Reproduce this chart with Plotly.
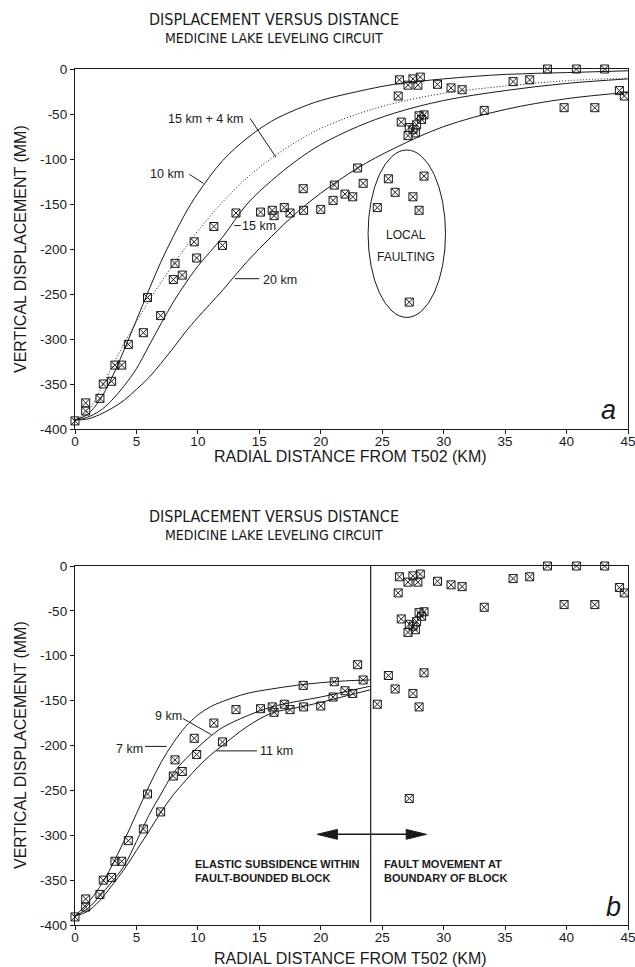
import plotly.graph_objects as go

# ---------------- data ----------------
dist_km = [0.0, 0.87, 0.87, 2.03, 2.3, 2.98, 3.25, 3.8, 4.34, 5.56,
           5.9, 6.97, 8.0, 8.14, 8.73, 9.7, 9.9, 11.3, 12.0, 13.1,
           15.1, 16.05, 16.2, 17.03, 17.5, 18.6, 18.57, 20.0, 21.0, 21.1,
           21.97, 22.6, 23.0, 23.45, 24.6, 25.5, 26.05, 27.5, 28.4, 28.0,
           27.2, 26.3, 26.4, 27.1, 27.5, 27.9, 28.1, 29.5, 30.6, 31.5,
           33.3, 35.65, 37.0, 38.45, 40.8, 43.1, 39.8, 42.3, 44.3, 44.7,
           26.55, 27.2, 28.0, 28.4, 28.2, 27.1, 27.7, 27.8, 27.5]
disp_mm = [-391, -371, -380, -366, -350, -347, -329, -329, -306, -293,
           -254, -274, -234, -216, -229, -192, -210, -175, -196, -160,
           -159, -157, -163, -154, -160, -157, -133, -156, -146, -129,
           -139, -142, -110, -127, -154, -122, -137, -142, -119, -157,
           -259, -30, -12, -18, -11, -18, -9, -17, -21, -23,
           -46, -14, -12, 0, 0, 0, -43, -43, -24, -30,
           -59, -65, -52, -51, -56, -74, -71, -62, -67]

# model curves, panel a
curve_x_a = [0, 1, 2, 3, 4, 5, 6, 7, 8, 9, 10, 12, 14, 16, 18, 20, 23, 26, 30, 35, 40, 45]
curve_10km = [-390, -384, -368, -343, -312, -279, -246, -214, -186, -160, -138, -102, -77, -58, -45, -35, -25, -17, -11, -6, -4, -2]
curve_15km_4km = [-390, -381, -358, -331, -305, -281, -258, -237, -217, -198, -180, -148, -121, -99, -81, -66, -50, -38, -27, -19, -13, -10]
curve_15km = [-390, -387, -380, -368, -352, -333, -308, -283, -259, -238, -219, -187, -150, -124, -102, -84, -64, -49, -35, -24, -16, -11]
curve_20km = [-390, -389, -384, -377, -368, -356, -343, -327, -310, -292, -276, -246, -214, -186, -160, -138, -110, -88, -64, -45, -33, -26]

# model curves, panel b
curve_x_b = [0, 1, 2, 3, 4, 5, 6, 7, 8, 9, 10, 11, 12, 14, 16, 18, 20, 22, 24]
curve_7km = [-390, -376, -358, -334, -306, -276, -246, -219, -197, -179, -166, -157, -151, -142, -137, -133, -130, -128, -127]
curve_9km = [-390, -382, -368, -352, -334, -307, -278, -254, -231, -215, -202, -190, -180, -167, -157, -151, -146, -140, -134]
curve_11km = [-390, -385, -373, -356, -338, -317, -296, -274, -255, -239, -224, -211, -200, -179, -164, -158, -152, -145, -138]

x_ticks = [0, 5, 10, 15, 20, 25, 30, 35, 40, 45]
y_ticks = [0, -50, -100, -150, -200, -250, -300, -350, -400]
y_tick_text = ["0", "-50", "-100", "-150", "-200", "-250", "-300", "-350", "-400"]

title_1 = "DISPLACEMENT VERSUS DISTANCE"
title_2 = "MEDICINE LAKE LEVELING CIRCUIT"
x_title = "RADIAL DISTANCE FROM T502 (KM)"
y_title = "VERTICAL DISPLACEMENT (MM)"

# ---------------- figure ----------------
W, H = 635, 967
INK = "#1a1a1a"
FONT = "Liberation Sans, Arial, sans-serif"
NARROW = "Liberation Sans Narrow, DejaVu Sans Condensed, Liberation Sans, sans-serif"


def fx(p):
    return p / W


def fy(p):
    return 1 - p / H


fig = go.Figure()

marker = dict(symbol="square-x-open", size=8, color=INK, line=dict(width=1, color=INK))

for xa, ya in (("x", "y"), ("x2", "y2")):
    fig.add_trace(go.Scatter(x=dist_km, y=disp_mm, mode="markers", marker=marker,
                             xaxis=xa, yaxis=ya, cliponaxis=False, showlegend=False))

line_solid = dict(color=INK, width=1, shape="spline", smoothing=1.0)
for ys, dash in ((curve_10km, "solid"), (curve_15km_4km, "1px,2px"), (curve_15km, "solid"), (curve_20km, "solid")):
    fig.add_trace(go.Scatter(x=curve_x_a, y=ys, mode="lines",
                             line=dict(line_solid, dash=dash),
                             xaxis="x", yaxis="y", showlegend=False))
for ys in (curve_7km, curve_9km, curve_11km):
    fig.add_trace(go.Scatter(x=curve_x_b, y=ys, mode="lines", line=line_solid,
                             xaxis="x2", yaxis="y2", showlegend=False))

axis_common = dict(range=[0, 45], showline=True, mirror=True, linecolor=INK, linewidth=1.3,
                   ticks="outside", ticklen=4, tickwidth=1, tickcolor=INK,
                   tickvals=x_ticks, tickfont=dict(family=FONT, size=13.5, color=INK),
                   ticklabelstandoff=-4, ticklabeloverflow="allow",
                   showgrid=False, zeroline=False, automargin=False)
yaxis_common = dict(range=[-400, 0], showline=True, mirror=True, linecolor=INK, linewidth=1.3,
                    ticks="outside", ticklen=4, tickwidth=1, tickcolor=INK,
                    tickvals=y_ticks, ticktext=y_tick_text,
                    tickfont=dict(family=FONT, size=13.5, color=INK),
                    ticklabeloverflow="allow",
                    showgrid=False, zeroline=False, automargin=False)

fig.update_layout(
    width=W, height=H, autosize=False,
    margin=dict(l=0, r=0, t=0, b=0, pad=0),
    paper_bgcolor="white", plot_bgcolor="white",
    xaxis=dict(axis_common, domain=[fx(75), fx(628)], anchor="y"),
    yaxis=dict(yaxis_common, domain=[fy(429), fy(69)], anchor="x"),
    xaxis2=dict(axis_common, domain=[fx(75), fx(628)], anchor="y2"),
    yaxis2=dict(yaxis_common, domain=[fy(925), fy(566)], anchor="x2"),
)

ann = []


def paper_text(text, x, y, size, family=FONT, angle=0):
    ann.append(dict(text=text, x=fx(x), y=fy(y), xref="paper", yref="paper",
                    showarrow=False, textangle=angle, xanchor="center", yanchor="middle",
                    font=dict(family=family, size=size, color=INK)))


# titles and axis titles
for top in (19, 516):
    paper_text(title_1, 274, top, 16, NARROW)
    paper_text(title_2, 274, top + 18.5, 14, NARROW)
paper_text(x_title, 351, 457, 16)
paper_text(x_title, 351, 958, 16)
paper_text(y_title, 20, 249, 16, angle=-90)
paper_text(y_title, 20, 745, 16, angle=-90)


def data_text(text, x, y, xr, yr, size=12.5, anchor="center", bold=False, italic=False, align="center"):
    t = text
    if bold:
        t = "<b>" + t.replace("<br>", "</b><br><b>") + "</b>"
    if italic:
        t = "<i>" + t + "</i>"
    ann.append(dict(text=t, x=x, y=y, xref=xr, yref=yr, showarrow=False,
                    xanchor=anchor, yanchor="middle", align=align,
                    font=dict(family=FONT, size=size, color=INK)))


# panel a labels
data_text("15 km + 4 km", 10.6, -55.6, "x", "y")
data_text("10 km", 7.5, -117, "x", "y")
data_text("15 km", 15.0, -174, "x", "y")
data_text("20 km", 16.7, -234, "x", "y")
data_text("LOCAL", 26.9, -184, "x", "y", size=12)
data_text("FAULTING", 26.9, -208.5, "x", "y", size=12)
data_text("a", 43.4, -379, "x", "y", size=27, italic=True)

# panel b labels
data_text("9 km", 7.6, -167, "x2", "y2")
data_text("7 km", 4.4, -204, "x2", "y2")
data_text("11 km", 16.4, -206, "x2", "y2")
data_text("ELASTIC SUBSIDENCE WITHIN<br>FAULT-BOUNDED BLOCK", 9.63, -340, "x2", "y2",
          size=11, anchor="left", bold=True, align="left")
data_text("FAULT MOVEMENT AT<br>BOUNDARY OF BLOCK", 24.95, -340, "x2", "y2",
          size=11, anchor="left", bold=True, align="left")
data_text("b", 43.8, -380, "x2", "y2", size=27, italic=True)

fig.update_layout(annotations=ann)

shapes = []


def seg(x0, y0, x1, y1, xr, yr, w=1):
    shapes.append(dict(type="line", x0=x0, y0=y0, x1=x1, y1=y1, xref=xr, yref=yr,
                       line=dict(color=INK, width=w)))


# leaders, panel a
seg(14.24, -54.8, 16.35, -98, "x", "y")
seg(9.3, -117, 10.44, -127, "x", "y")
seg(12.95, -174, 13.5, -174, "x", "y")
seg(13.0, -233, 15.0, -233, "x", "y")
shapes.append(dict(type="circle", x0=23.85, x1=30.15, y0=-276, y1=-90, xref="x", yref="y",
                   line=dict(color=INK, width=1)))

# leaders, panel b
seg(8.8, -170, 11.1, -188, "x2", "y2")
seg(5.7, -201, 7.46, -201, "x2", "y2")
seg(11.5, -206, 14.8, -206, "x2", "y2")

# boundary and double arrow, panel b
boundary_km = 24.06
seg(boundary_km, 0, boundary_km, -397, "x2", "y2", 1.2)
arrow_y, arrow_left, arrow_right = -299, 19.7, 28.6
head_len, head_half = 1.65, 5.5
seg(arrow_left + head_len * 0.5, arrow_y, arrow_right - head_len * 0.5, arrow_y, "x2", "y2", 1.5)
for tip, sgn in ((arrow_left, 1), (arrow_right, -1)):
    base = tip + sgn * head_len
    shapes.append(dict(type="path", xref="x2", yref="y2",
                       path=f"M {tip},{arrow_y} L {base},{arrow_y + head_half} L {base},{arrow_y - head_half} Z",
                       fillcolor=INK, line=dict(color=INK, width=1)))

fig.update_layout(shapes=shapes)

fig.write_html("out.html", config={"displayModeBar": False},
               post_script="document.body.style.margin='0px';")
